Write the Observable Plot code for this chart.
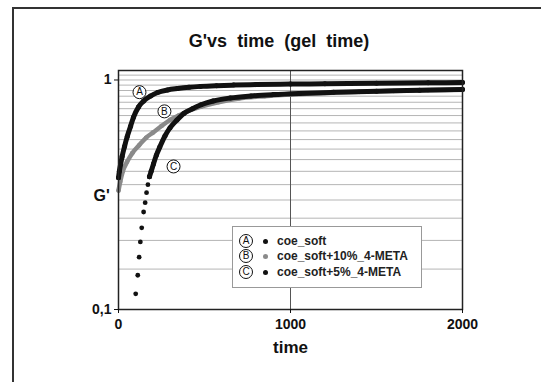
<!DOCTYPE html>
<html><head><meta charset="utf-8">
<script src="https://cdn.jsdelivr.net/npm/d3@7"></script>
<script src="https://cdn.jsdelivr.net/npm/@observablehq/plot@0.6"></script>
<style>
html,body{margin:0;padding:0;background:#fff;overflow:hidden;width:541px;height:382px;font-family:"Liberation Sans",Arial,sans-serif;}
#frame{position:absolute;left:12px;top:7px;width:600px;height:500px;border-left:2px solid #333;border-top:2px solid #333;}
#chart{position:absolute;left:0;top:0;}
#title{position:absolute;left:129px;width:300px;top:31px;text-align:center;font-weight:bold;font-size:18px;color:#111;white-space:pre;}
#legend{position:absolute;left:232px;top:226px;width:190px;height:62px;border:1.5px solid #999;background:#fff;box-sizing:border-box;}
.circ{position:absolute;width:12px;height:12px;border:1px solid #111;border-radius:50%;font-size:10px;line-height:12px;text-align:center;color:#111;box-sizing:content-box;background:#fff;}
.mk{position:absolute;width:5px;height:5px;border-radius:50%;}
.lt{position:absolute;font-size:12px;font-weight:bold;color:#222;white-space:nowrap;line-height:14px;}
</style></head>
<body>
<div id="frame"></div>
<div id="chart"></div>
<div id="title">G'vs  time  (gel  time)</div>
<div id="legend"></div>
<script>
// Series A: coe_soft
const timeA = [0, 5, 12, 21, 35, 51, 70, 87, 116, 145, 186, 227, 285, 343, 410, 477, 570, 669, 800, 1000, 1200, 1500, 1800, 2000];
const gA    = [0.375, 0.40, 0.428, 0.464, 0.513, 0.568, 0.628, 0.688, 0.762, 0.809, 0.851, 0.882, 0.905, 0.918, 0.93, 0.938, 0.945, 0.95, 0.955, 0.96, 0.963, 0.967, 0.972, 0.975];
// Series B: coe_soft+10%_4-META
const timeB = [0, 10, 25, 50, 80, 120, 160, 200, 250, 300, 350, 400, 480, 580, 700, 850, 1000, 1200, 1400, 1600, 1800, 2000];
const gB    = [0.33, 0.36, 0.40, 0.44, 0.48, 0.52, 0.56, 0.59, 0.63, 0.67, 0.70, 0.73, 0.765, 0.80, 0.83, 0.85, 0.865, 0.878, 0.888, 0.896, 0.902, 0.908];
// Series C: coe_soft+5%_4-META (sparse early dots, then dense band)
const timeCsparse = [100, 112, 120, 127, 135, 146, 155, 163, 171, 180];
const gCsparse    = [0.117, 0.141, 0.169, 0.197, 0.227, 0.266, 0.292, 0.323, 0.350, 0.379];
const timeC = [180, 190, 203, 220, 240, 270, 300, 340, 380, 430, 480, 550, 650, 770, 900, 1050, 1250, 1500, 1750, 2000];
const gC    = [0.379, 0.40, 0.43, 0.47, 0.51, 0.57, 0.62, 0.67, 0.715, 0.75, 0.78, 0.81, 0.835, 0.852, 0.864, 0.874, 0.884, 0.893, 0.902, 0.91];

const seriesNames = ["coe_soft", "coe_soft+10%_4-META", "coe_soft+5%_4-META"];
const seriesLetters = ["A", "B", "C"];
const seriesColors = ["#111", "#8a8a8a", "#111"];

// callout letters placed in data units
const calloutTime = [122, 267, 320];
const calloutG = [0.885, 0.73, 0.42];

const yTicks = [0.1, 1];
const yTickLabels = ["0,1", "1"];
const xTicks = [0, 1000, 2000];
const gridMinor = [0.15, 0.2, 0.25, 0.3, 0.35, 0.4, 0.45, 0.5, 0.55, 0.6, 0.65, 0.7, 0.75, 0.8, 0.85, 0.9, 0.95, 1, 1.05];
const gridX = [1000];

const tbl = (ts, gs) => ts.map((t, i) => ({t, g: gs[i]}));
const A = tbl(timeA, gA), B = tbl(timeB, gB), C = tbl(timeC, gC), Cs = tbl(timeCsparse, gCsparse);
const callouts = calloutTime.map((t, i) => ({t, g: calloutG[i], L: seriesLetters[i]}));

const plot = Plot.plot({
  width: 541, height: 382,
  marginTop: 70, marginRight: 79, marginBottom: 73, marginLeft: 118,
  style: {fontFamily: "Liberation Sans, Arial, sans-serif", background: "transparent", color: "#111"},
  x: {domain: [0, 2000]},
  y: {type: "log", domain: [0.1, 1.1]},
  marks: [
    Plot.ruleY(gridMinor, {stroke: "#b5b5b5", strokeWidth: 1}),
    Plot.ruleX(gridX, {stroke: "#555", strokeWidth: 1}),
    Plot.line(B, {x: "t", y: "g", stroke: seriesColors[1], strokeWidth: 4.5, curve: "monotone-x"}),
    Plot.dot(B, {x: "t", y: "g", r: 2.3, fill: seriesColors[1]}),
    Plot.line(A, {x: "t", y: "g", stroke: seriesColors[0], strokeWidth: 5, curve: "monotone-x"}),
    Plot.dot(A, {x: "t", y: "g", r: 2.5, fill: seriesColors[0]}),
    Plot.line(C, {x: "t", y: "g", stroke: seriesColors[2], strokeWidth: 5, curve: "monotone-x"}),
    Plot.dot(C, {x: "t", y: "g", r: 2.5, fill: seriesColors[2]}),
    Plot.dot(Cs, {x: "t", y: "g", r: 2.4, fill: seriesColors[2]}),
    Plot.dot(callouts, {x: "t", y: "g", r: 6.5, fill: "#fff", stroke: "#111", strokeWidth: 1}),
    Plot.text(callouts, {x: "t", y: "g", text: "L", fontSize: 10, fill: "#111"}),
    Plot.frame({stroke: "#222", strokeWidth: 1.5}),
    Plot.axisY({ticks: yTicks, tickFormat: (d) => yTickLabels[yTicks.indexOf(d)], tickSize: 4, tickPadding: 3, fontSize: 14, fontWeight: "bold", label: null}),
    Plot.axisX({ticks: xTicks, tickFormat: (d) => String(d), tickSize: 4, tickPadding: 6, fontSize: 14, fontWeight: "bold", label: null}),
    Plot.text(["time"], {frameAnchor: "bottom", dy: 43, fontSize: 17, fontWeight: "bold", fill: "#111"}),
    Plot.text(["G'"], {frameAnchor: "left", dx: -25, dy: 6, fontSize: 16, fontWeight: "bold", fill: "#111"})
  ]
});
document.getElementById("chart").appendChild(plot);

// legend
const leg = document.getElementById("legend");
const rowY = [14, 29, 45];
seriesNames.forEach((name, i) => {
  const c = document.createElement("div");
  c.className = "circ"; c.textContent = seriesLetters[i];
  c.style.left = "6px"; c.style.top = (rowY[i] - 7) + "px";
  leg.appendChild(c);
  const m = document.createElement("div");
  m.className = "mk"; m.style.background = seriesColors[i];
  m.style.left = "30px"; m.style.top = (rowY[i] - 2.5) + "px";
  leg.appendChild(m);
  const t = document.createElement("div");
  t.className = "lt"; t.textContent = name;
  t.style.left = "44px"; t.style.top = (rowY[i] - 7) + "px";
  leg.appendChild(t);
});
</script>
</body></html>
